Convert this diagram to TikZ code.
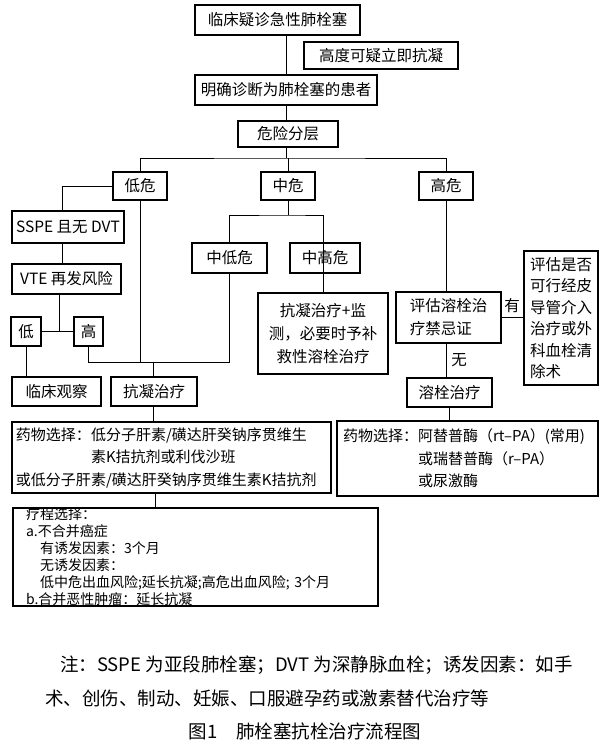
\documentclass[tikz,border=0pt]{standalone}
\usepackage{fontspec}
\setmainfont{Noto Sans CJK SC}
\begin{document}
\begin{tikzpicture}[x=1pt,y=-1pt,
  box/.style={draw,line width=1.4pt,inner sep=0pt,font=\fontsize{15.5}{18}\selectfont,align=center},
  ln/.style={line width=0.9pt},
  lbl/.style={font=\fontsize{15.5}{18}\selectfont,inner sep=0pt}]
\useasboundingbox (0,0) rectangle (610,752);
\newcommand{\bx}[6]{\node[box,minimum width=#4-#2,minimum height=#5-#3,#6] (#1) at ({(#2+#4)/2},{(#3+#5)/2})}
\bx{top}{195}{5}{360}{35}{}{临床疑诊急性肺栓塞};
\bx{susp}{304}{42}{458}{69}{}{高度可疑立即抗凝};
\bx{conf}{195}{75}{377}{105}{}{明确诊断为肺栓塞的患者};
\bx{strat}{238}{121}{338}{147}{}{危险分层};
\bx{low}{113}{172}{167}{200}{}{低危};
\bx{mid}{261}{172}{315}{200}{}{中危};
\bx{high}{419}{172}{473}{200}{}{高危};
\bx{sspe}{12}{211}{124}{243}{}{SSPE 且无 DVT};
\bx{vte}{12}{264}{121}{294}{}{VTE 再发风险};
\bx{lo}{11}{317}{41}{346}{}{低};
\bx{hi}{74}{317}{103}{346}{}{高};
\bx{obs}{12}{377}{101}{406}{}{临床观察};
\bx{ac}{111}{377}{197}{406}{}{抗凝治疗};
\bx{ml}{192}{243}{267}{273}{}{中低危};
\bx{mh}{290}{243}{360}{273}{}{中高危};
\bx{acm}{258}{293}{388}{374}{font=\fontsize{15.5}{23}\selectfont}{抗凝治疗+监\\测，必要时予补\\救性溶栓治疗};
\bx{ev}{396}{292}{501}{343}{align=left,font=\fontsize{15.5}{23}\selectfont}{评估溶栓治\\疗禁忌证};
\bx{cath}{524}{251}{598}{385}{align=left,font=\fontsize{15.5}{21.5}\selectfont}{评估是否\\可行经皮\\导管介入\\治疗或外\\科血栓清\\除术};
\bx{thr}{407}{378}{492}{407}{}{溶栓治疗};
\bx{drugl}{12}{422}{331}{493}{text width=311pt,align=left,font=\fontsize{15}{22.5}\selectfont}{药物选择：低分子肝素/磺达肝癸钠序贯维生\\\hspace*{5em}素K拮抗剂或利伐沙班\\或低分子肝素/磺达肝癸钠序贯维生素K拮抗剂};
\bx{drugr}{337}{421}{598}{496}{text width=249pt,align=left,font=\fontsize{15}{22.5}\selectfont}{药物选择：阿替普酶（rt–PA）(常用)\\\hspace*{5em}或瑞替普酶（r–PA）\\\hspace*{5em}或尿激酶};
\bx{course}{13}{509}{378}{605}{text width=339pt,align=left,font=\fontsize{14}{17}\selectfont}{疗程选择：\\a.不合并癌症\\\hspace*{1em}有诱发因素：3个月\\\hspace*{1em}无诱发因素：\\\hspace*{1em}低中危出血风险;延长抗凝;高危出血风险; 3个月\\b.合并恶性肿瘤：延长抗凝};
% connectors
\coordinate (s1) at (286,158);
\coordinate (s2) at (288,215);
\coordinate (j1) at (140,362);
\coordinate (vj) at (59,332);
\coordinate (ej) at (153,362);
\draw[ln] (top.south -| s1) -- (conf.north -| s1);
\draw[ln] (conf.south -| s1) -- (strat.north -| s1);
\draw[ln] (strat.south -| s1) -- (s1);
\draw[ln] (low.north) |- (s1) -| (high.north);
\draw[ln] (s1 -| mid.north) -- (mid.north);
\draw[ln] (low.west) -| (sspe.north -| 62,0);
\draw[ln] (sspe.south -| 62,0) -- (vte.north -| 62,0);
\draw[ln] (vte.south -| vj) -- (vj);
\draw[ln] (lo.east) -- (hi.west);
\draw[ln] (lo.south) -- (obs.north -| lo.south);
\draw[ln] (hi.south) |- (j1 -| ml.south);
\draw[ln] (low.south) -- (j1);
\draw[ln] (ml.south) -- (j1 -| ml.south);
\draw[ln] (ej) -- (ac.north -| ej);
\draw[ln] (mid.south) -- (s2);
\draw[ln] (ml.north) |- (s2) -| (mh.south -| acm.north);
\draw[ln] (mh.south -| acm.north) -- (acm.north);
\draw[ln] (high.south) -- (ev.north -| high.south);
\draw[ln] (ev.east) -- (cath.west |- ev.east);
\draw[ln] (ev.south -| high.south) -- (thr.north -| high.south);
\draw[ln] (thr.south -| 449,0) -- (drugr.north -| 449,0);
\draw[ln] (ac.south -| ej) -- (drugl.north -| ej);
\draw[ln] (drugl.south -| 155,0) -- (course.north -| 155,0);
\node[lbl] (yes) at (512,306) {有};
\node[lbl] (no) at (459,360) {无};
% caption
\node[anchor=west,inner sep=0pt,font=\fontsize{18.5}{20}\selectfont] (n1) at (60,665) {注：SSPE 为亚段肺栓塞；DVT 为深静脉血栓；诱发因素：如手};
\node[anchor=west,inner sep=0pt,font=\fontsize{18.5}{20}\selectfont] (n2) at (45,698) {术、创伤、制动、妊娠、口服避孕药或激素替代治疗等};
\node[inner sep=0pt,font=\fontsize{18.5}{20}\selectfont] (cap) at (305,731) {图1\quad 肺栓塞抗栓治疗流程图};
\end{tikzpicture}
\end{document}
